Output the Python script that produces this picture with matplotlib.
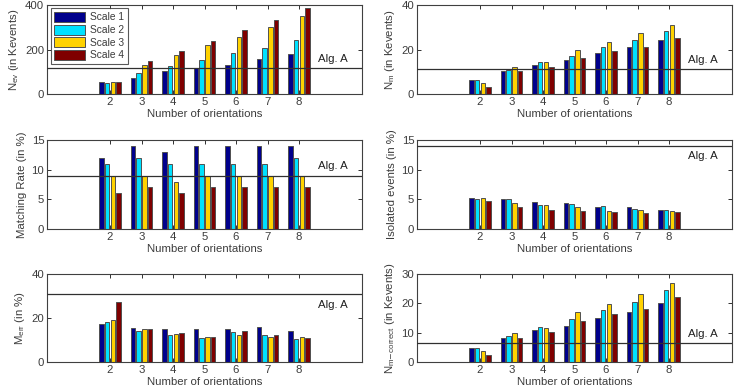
import matplotlib
matplotlib.use("Agg")
import matplotlib.pyplot as plt
import numpy as np

plt.rcParams['font.family'] = ['Liberation Sans', 'DejaVu Sans']
plt.rcParams['mathtext.default'] = 'regular'

orientations = [2, 3, 4, 5, 6, 7, 8]
scale_labels = ['Scale 1', 'Scale 2', 'Scale 3', 'Scale 4']
colors = ['#00008C', '#00E1FF', '#FFD200', '#7F0000']

nev = [[53, 71, 103, 118, 132, 156, 179],
       [50, 95, 126, 153, 183, 206, 244],
       [53, 132, 174, 221, 258, 302, 350],
       [53, 147, 194, 238, 288, 333, 386]]
nev_alg = 118

nm = [[6.2, 10.2, 13.2, 15.3, 18.3, 20.9, 24.1],
      [6.2, 11.0, 14.2, 17.3, 20.9, 24.1, 28.2],
      [5.0, 12.3, 14.2, 20.0, 23.2, 27.3, 31.2],
      [3.0, 10.2, 12.3, 16.2, 19.2, 20.9, 25.2]]
nm_alg = 11.2

mrate = [[12, 14, 13, 14, 14, 14, 14],
         [11, 12, 11, 11, 11, 11, 12],
         [9, 9, 8, 9, 9, 9, 9],
         [6, 7, 6, 7, 7, 7, 7]]
mrate_alg = 9

iso = [[5.17, 5.06, 4.55, 4.3, 3.75, 3.75, 3.25],
       [5.06, 5.06, 4.1, 4.15, 3.9, 3.4, 3.15],
       [5.2, 4.3, 4.1, 3.65, 3.1, 3.25, 3.05],
       [4.8, 3.75, 3.25, 3.1, 2.9, 2.75, 2.9]]
iso_alg = 14.05

merr = [[17.2, 15.5, 15.0, 15.0, 15.0, 16.0, 14.3],
        [18.1, 14.3, 12.2, 11.1, 13.5, 12.2, 10.6],
        [19.3, 15.0, 12.8, 11.5, 12.2, 11.4, 11.2],
        [27.5, 15.0, 13.2, 11.5, 14.0, 12.2, 10.8]]
merr_alg = 30.8

nmc = [[4.8, 8.2, 10.8, 12.3, 14.9, 17.2, 20.1],
       [4.8, 8.9, 12.0, 14.6, 17.7, 20.5, 24.5],
       [3.8, 9.9, 11.7, 17.1, 19.7, 23.3, 26.9],
       [2.3, 8.2, 10.3, 13.9, 16.2, 18.2, 22.0]]
nmc_alg = 6.4

panels = [
    (nev, nev_alg, r'N$_{ev}$ (in Kevents)', (0, 400), [0, 200, 400], 'above'),
    (nm, nm_alg, r'N$_{m}$ (in Kevents)', (0, 40), [0, 20, 40], 'above'),
    (mrate, mrate_alg, 'Matching Rate (in %)', (0, 15), [0, 5, 10, 15], 'above'),
    (iso, iso_alg, 'Isolated events (in %)', (0, 15), [0, 5, 10, 15], 'below'),
    (merr, merr_alg, r'M$_{err}$ (in %)', (0, 40), [0, 20, 40], 'below'),
    (nmc, nmc_alg, r'N$_{m\mathrm{-}correct}$ (in Kevents)', (0, 30), [0, 10, 20, 30], 'above'),
]

W, H = 738, 392
fig = plt.figure(figsize=(W / 100, H / 100), dpi=100)
lefts = [47, 417]
rows = [(5, 94), (140, 229), (274, 362)]
axw = 315

txtc = '#3c3c3c'
fs = 8.2
pitch = 0.18
bw = 0.145
x = np.array(orientations, dtype=float)

for i, (data, alg, ylab, ylim, yt, pos) in enumerate(panels):
    r, c = divmod(i, 2)
    top, bot = rows[r]
    ax = fig.add_axes([lefts[c] / W, 1 - bot / H, axw / W, (bot - top) / H])
    for k in range(4):
        ax.bar(x + (k - 1.5) * pitch, data[k], width=bw, color=colors[k],
               edgecolor='#505050', linewidth=0.7, label=scale_labels[k], zorder=2)
    ax.axhline(alg, color='#303030', linewidth=0.9, zorder=3)
    if pos == 'above':
        ax.annotate('Alg. A', xy=(0.955, alg), xycoords=('axes fraction', 'data'),
                    xytext=(0, 3), textcoords='offset points', ha='right', va='bottom',
                    fontsize=fs, color='#202020')
    else:
        ax.annotate('Alg. A', xy=(0.955, alg), xycoords=('axes fraction', 'data'),
                    xytext=(0, -4), textcoords='offset points', ha='right', va='top',
                    fontsize=fs, color='#202020')
    ax.set_xlim(0, 10)
    ax.set_ylim(*ylim)
    ax.set_xticks(orientations)
    ax.set_yticks(yt)
    ax.tick_params(direction='in', length=3, width=0.7, top=True, right=True,
                   labelsize=fs, colors='#303030', labelcolor=txtc, pad=2)
    for s in ax.spines.values():
        s.set_color('#404040')
        s.set_linewidth(0.8)
    ax.set_xlabel('Number of orientations', fontsize=fs, color=txtc, labelpad=1.5)
    ax.set_ylabel(ylab, fontsize=fs, color=txtc, labelpad=3)
    if i == 0:
        leg = ax.legend(loc='upper left', bbox_to_anchor=(0.005, 0.985), fontsize=fs - 0.8,
                        frameon=True, fancybox=False, edgecolor='#303030',
                        handlelength=3.0, handleheight=1.1, labelspacing=0.22,
                        borderpad=0.35, handletextpad=0.5, borderaxespad=0.2)
        leg.get_frame().set_linewidth(0.8)
        for t in leg.get_texts():
            t.set_color(txtc)

fig.savefig('out.png', dpi=100)
